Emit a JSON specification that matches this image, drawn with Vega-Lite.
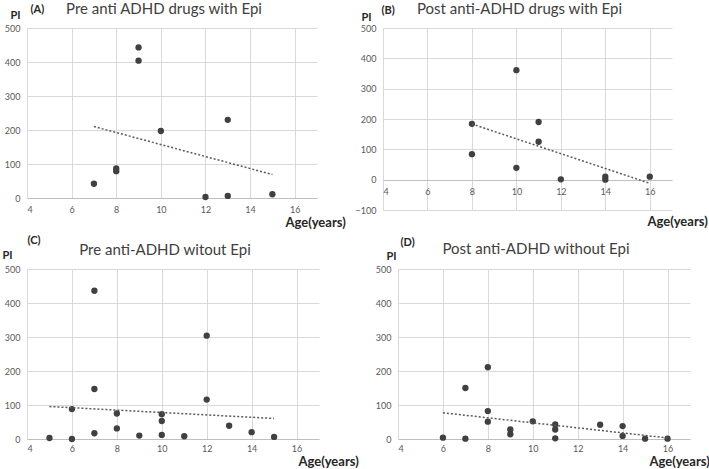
{
  "$schema": "https://vega.github.io/schema/vega-lite/v6.json",
  "background": "white",
  "padding": {"left": 2, "top": 2, "right": 0, "bottom": 0},
  "datasets": {
    "A": [
      {"age": 7, "pi": 42}, {"age": 8, "pi": 87}, {"age": 8, "pi": 79}, {"age": 9, "pi": 443}, {"age": 9, "pi": 404},
      {"age": 10, "pi": 197}, {"age": 12, "pi": 3}, {"age": 13, "pi": 230}, {"age": 13, "pi": 6}, {"age": 15, "pi": 11}
    ],
    "B": [
      {"age": 8, "pi": 184}, {"age": 8, "pi": 84}, {"age": 10, "pi": 361}, {"age": 10, "pi": 39}, {"age": 11, "pi": 190},
      {"age": 11, "pi": 125}, {"age": 12, "pi": 1}, {"age": 14, "pi": 10}, {"age": 14, "pi": 0}, {"age": 16, "pi": 10}
    ],
    "C": [
      {"age": 5, "pi": 3}, {"age": 6, "pi": 88}, {"age": 6, "pi": 0}, {"age": 7, "pi": 436}, {"age": 7, "pi": 147},
      {"age": 7, "pi": 17}, {"age": 8, "pi": 75}, {"age": 8, "pi": 31}, {"age": 9, "pi": 10}, {"age": 10, "pi": 73},
      {"age": 10, "pi": 53}, {"age": 10, "pi": 12}, {"age": 11, "pi": 8}, {"age": 12, "pi": 304}, {"age": 12, "pi": 116},
      {"age": 13, "pi": 39}, {"age": 14, "pi": 20}, {"age": 15, "pi": 6}
    ],
    "D": [
      {"age": 6, "pi": 4}, {"age": 7, "pi": 150}, {"age": 7, "pi": 1}, {"age": 8, "pi": 211}, {"age": 8, "pi": 82},
      {"age": 8, "pi": 51}, {"age": 9, "pi": 28}, {"age": 9, "pi": 14}, {"age": 10, "pi": 52}, {"age": 11, "pi": 43},
      {"age": 11, "pi": 28}, {"age": 11, "pi": 2}, {"age": 13, "pi": 42}, {"age": 14, "pi": 38}, {"age": 14, "pi": 9},
      {"age": 15, "pi": 1}, {"age": 16, "pi": 1}
    ]
  },
  "spacing": 5,
  "vconcat": [
    {
      "spacing": 66,
      "bounds": "flush",
      "hconcat": [
        {
          "data": {"name": "A"},
          "width": 290, "height": 170,
          "title": {"text": "Pre anti ADHD drugs with Epi", "offset": -14},
          "encoding": {"x": {"field": "age", "type": "quantitative", "scale": {"domain": [4, 17], "nice": false, "zero": false},
            "axis": {"values": [4, 6, 8, 10, 12, 14, 16], "title": "Age(years)", "titleX": 258, "titleY": 28}}},
          "layer": [
            {"mark": {"type": "circle", "size": 40, "color": "#404040", "opacity": 1},
             "encoding": {"y": {"field": "pi", "type": "quantitative", "scale": {"domain": [0, 500], "nice": false},
               "axis": {"values": [0, 100, 200, 300, 400, 500], "title": "PI", "titleX": -17, "titleY": -10}}}},
            {"transform": [{"regression": "pi", "on": "age"}],
             "mark": {"type": "line", "color": "#595959", "strokeWidth": 1.5, "strokeDash": [2, 2]},
             "encoding": {"y": {"field": "pi", "type": "quantitative", "scale": {"domain": [0, 500], "nice": false},
               "axis": {"orient": "right", "title": "(A)", "titleX": -287, "titleY": -16}}}}
          ],
          "resolve": {"axis": {"y": "independent"}}
        },
        {
          "data": {"name": "B"},
          "width": 289, "height": 182,
          "title": {"text": "Post anti-ADHD drugs with Epi", "offset": -13},
          "encoding": {"x": {"field": "age", "type": "quantitative", "scale": {"domain": [4, 17], "nice": false, "zero": false},
            "axis": {"values": [4, 6, 8, 10, 12, 14, 16], "title": "Age(years)", "offset": -30, "titleX": 264, "titleY": 45}}},
          "layer": [
            {"mark": {"type": "circle", "size": 40, "color": "#404040", "opacity": 1},
             "encoding": {"y": {"field": "pi", "type": "quantitative", "scale": {"domain": [-100, 500], "nice": false},
               "axis": {"values": [-100, 0, 100, 200, 300, 400, 500], "title": "PI", "titleX": -22, "titleY": -8}}}},
            {"transform": [{"regression": "pi", "on": "age"}],
             "mark": {"type": "line", "color": "#595959", "strokeWidth": 1.5, "strokeDash": [2, 2]},
             "encoding": {"y": {"field": "pi", "type": "quantitative", "scale": {"domain": [-100, 500], "nice": false},
               "axis": {"orient": "right", "title": "(B)", "titleX": -291, "titleY": -15}}}}
          ],
          "resolve": {"axis": {"y": "independent"}}
        }
      ]
    },
    {
      "spacing": 79,
      "bounds": "flush",
      "hconcat": [
        {
          "data": {"name": "C"},
          "width": 292, "height": 170,
          "title": {"text": "Pre anti-ADHD witout Epi", "offset": -24},
          "encoding": {"x": {"field": "age", "type": "quantitative", "scale": {"domain": [4, 17], "nice": false, "zero": false},
            "axis": {"values": [4, 6, 8, 10, 12, 14, 16], "title": "Age(years)", "labelPadding": 5, "titleX": 271, "titleY": 26}}},
          "layer": [
            {"mark": {"type": "circle", "size": 40, "color": "#404040", "opacity": 1},
             "encoding": {"y": {"field": "pi", "type": "quantitative", "scale": {"domain": [0, 500], "nice": false},
               "axis": {"values": [0, 100, 200, 300, 400, 500], "title": "PI", "titleX": -25, "titleY": -11}}}},
            {"transform": [{"regression": "pi", "on": "age"}],
             "mark": {"type": "line", "color": "#595959", "strokeWidth": 1.5, "strokeDash": [2, 2]},
             "encoding": {"y": {"field": "pi", "type": "quantitative", "scale": {"domain": [0, 500], "nice": false},
               "axis": {"orient": "right", "title": "(C)", "titleX": -292, "titleY": -26}}}}
          ],
          "resolve": {"axis": {"y": "independent"}}
        },
        {
          "data": {"name": "D"},
          "width": 292, "height": 170,
          "title": {"text": "Post anti-ADHD without Epi", "offset": -21},
          "encoding": {"x": {"field": "age", "type": "quantitative", "scale": {"domain": [4, 17], "nice": false, "zero": false},
            "axis": {"values": [4, 6, 8, 10, 12, 14, 16], "title": "Age(years)", "labelPadding": 5, "titleX": 251, "titleY": 26}}},
          "layer": [
            {"mark": {"type": "circle", "size": 40, "color": "#404040", "opacity": 1},
             "encoding": {"y": {"field": "pi", "type": "quantitative", "scale": {"domain": [0, 500], "nice": false},
               "axis": {"values": [0, 100, 200, 300, 400, 500], "title": "PI", "titleX": -12, "titleY": -10}}}},
            {"transform": [{"regression": "pi", "on": "age"}],
             "mark": {"type": "line", "color": "#595959", "strokeWidth": 1.5, "strokeDash": [2, 2]},
             "encoding": {"y": {"field": "pi", "type": "quantitative", "scale": {"domain": [0, 500], "nice": false},
               "axis": {"orient": "right", "title": "(D)", "titleX": -290, "titleY": -24}}}}
          ],
          "resolve": {"axis": {"y": "independent"}}
        }
      ]
    }
  ],
  "config": {
    "view": {"stroke": null},
    "axis": {"labelFont": "Lato", "labelFontSize": 9, "labelColor": "#595959", "gridColor": "#d9d9d9", "gridWidth": 1,
      "ticks": false, "tickSize": 0, "titleFont": "Lato", "titleColor": "#262626", "titleAngle": 0, "titleAlign": "left", "titleBaseline": "alphabetic"},
    "axisX": {"domainColor": "#bfbfbf", "domainWidth": 1, "labelPadding": 7, "titleFontSize": 13, "titleFontWeight": "bold", "grid": true},
    "axisY": {"domain": false, "labelPadding": 7, "titleFontSize": 11, "titleFontWeight": "bold"},
    "axisRight": {"labels": false, "grid": false, "domain": false, "titleFontSize": 11, "titleFontWeight": "bold"},
    "title": {"font": "Lato", "fontSize": 15, "fontWeight": "normal", "color": "#404040", "frame": "group", "dx": -8}
  }
}
